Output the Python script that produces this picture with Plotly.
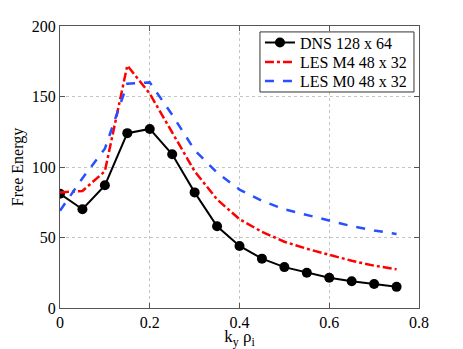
import plotly.graph_objects as go

# wavenumber k_y rho_i
ky = [0, 0.05, 0.1, 0.15, 0.2, 0.25, 0.3, 0.35, 0.4, 0.45, 0.5, 0.55, 0.6, 0.65, 0.7, 0.75]

# free energy per run
dns = [81, 70, 87, 124, 127, 109, 82, 58, 44, 35, 29, 25, 21.5, 19, 17, 15]
les_m4 = [82, 83, 97, 172, 152, 124, 97, 77, 63, 54, 47, 42, 37.5, 33.5, 30, 27.5]
les_m0 = [69, 92, 113, 159, 160, 137, 112, 96, 84, 76, 70, 66, 62, 58, 55, 52.5]

SERIF = "Liberation Serif"

fig = go.Figure()
fig.add_trace(go.Scatter(x=ky, y=dns, name="DNS 128 x 64", mode="lines+markers",
                         line=dict(color="black", width=2),
                         marker=dict(color="black", size=10), legend="legend"))
fig.add_trace(go.Scatter(x=ky, y=les_m4, name="LES M4 48 x 32", mode="lines",
                         line=dict(color="rgb(255,0,0)", width=2.5, dash="dashdot"),
                         legend="legend2"))
fig.add_trace(go.Scatter(x=ky, y=les_m0, name="LES M0 48 x 32", mode="lines",
                         line=dict(color="rgb(40,80,255)", width=2.5, dash="dash"),
                         legend="legend3"))

axis_style = dict(
    showgrid=True, gridcolor="#c4c4c4", griddash="dot", gridwidth=1,
    showline=True, linecolor="#555", linewidth=1, mirror="ticks",
    ticks="inside", ticklen=5, tickcolor="#555", zeroline=False,
    tickfont=dict(family=SERIF, size=16, color="black"), automargin=False,
)


# one legend per row so the rows can sit as close as in the original
def row_legend(y):
    return dict(x=0.557, y=y, xanchor="left", yanchor="middle",
                bgcolor="rgba(0,0,0,0)", borderwidth=0,
                font=dict(family=SERIF, size=16), itemwidth=30)


# the page body adds an 8px margin, so the figure is a bit smaller than the window
fig.update_layout(
    width=455, height=341,
    margin=dict(l=52, r=44, t=18, b=41),
    paper_bgcolor="white", plot_bgcolor="white",
    font=dict(family=SERIF, color="black", size=16),
    showlegend=True,
    legend=row_legend(0.941),
    legend2=row_legend(0.872),
    legend3=row_legend(0.805),
    shapes=[dict(type="rect", xref="paper", yref="paper",
                 x0=0.557, x1=0.986, y0=0.766, y1=0.979,
                 fillcolor="white", line=dict(color="#333", width=1), layer="above")],
    xaxis=dict(range=[0, 0.8],
               tickvals=[0, 0.2, 0.4, 0.6, 0.8], ticktext=["0", "0.2", "0.4", "0.6", "0.8"],
               title=dict(text="k<sub>y</sub> ρ<sub>i</sub>", standoff=0,
                          font=dict(family=SERIF, size=17)),
               **axis_style),
    yaxis=dict(range=[0, 200], dtick=50,
               title=dict(text="Free Energy", standoff=4, font=dict(family=SERIF, size=16)),
               **axis_style),
)

fig.write_html("out.html")
